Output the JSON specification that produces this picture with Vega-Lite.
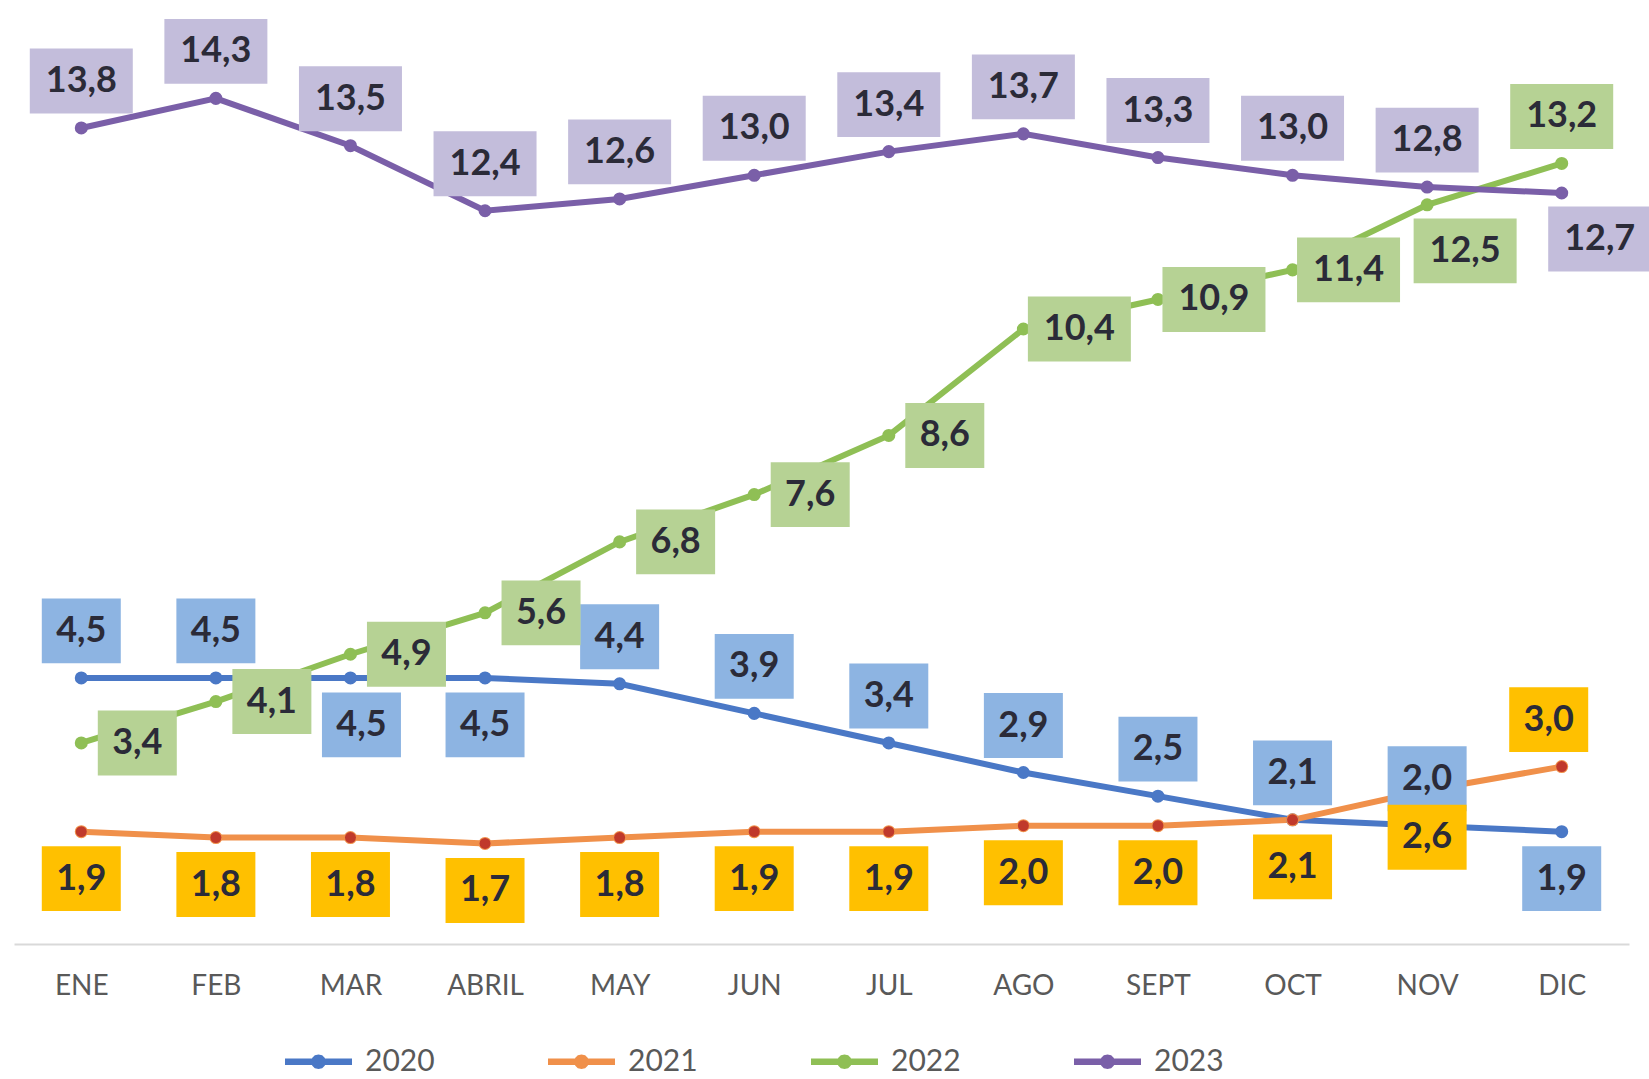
{
  "$schema": "https://vega.github.io/schema/vega-lite/v6.json",
  "width": 1615,
  "height": 887,
  "autosize": "none",
  "padding": {"left": 14, "top": 57, "right": 20, "bottom": 135},
  "background": "white",
  "config": {
    "view": {"stroke": null},
    "locale": {"number": {"decimal": ",", "thousands": ".", "grouping": [3], "currency": ["", " €"]}}
  },
  "data": {
    "values": [
      {"month": "ENE", "year": "2020", "value": 4.5},
      {"month": "FEB", "year": "2020", "value": 4.5},
      {"month": "MAR", "year": "2020", "value": 4.5},
      {"month": "ABRIL", "year": "2020", "value": 4.5},
      {"month": "MAY", "year": "2020", "value": 4.4},
      {"month": "JUN", "year": "2020", "value": 3.9},
      {"month": "JUL", "year": "2020", "value": 3.4},
      {"month": "AGO", "year": "2020", "value": 2.9},
      {"month": "SEPT", "year": "2020", "value": 2.5},
      {"month": "OCT", "year": "2020", "value": 2.1},
      {"month": "NOV", "year": "2020", "value": 2.0},
      {"month": "DIC", "year": "2020", "value": 1.9},
      {"month": "ENE", "year": "2021", "value": 1.9},
      {"month": "FEB", "year": "2021", "value": 1.8},
      {"month": "MAR", "year": "2021", "value": 1.8},
      {"month": "ABRIL", "year": "2021", "value": 1.7},
      {"month": "MAY", "year": "2021", "value": 1.8},
      {"month": "JUN", "year": "2021", "value": 1.9},
      {"month": "JUL", "year": "2021", "value": 1.9},
      {"month": "AGO", "year": "2021", "value": 2.0},
      {"month": "SEPT", "year": "2021", "value": 2.0},
      {"month": "OCT", "year": "2021", "value": 2.1},
      {"month": "NOV", "year": "2021", "value": 2.6},
      {"month": "DIC", "year": "2021", "value": 3.0},
      {"month": "ENE", "year": "2022", "value": 3.4},
      {"month": "FEB", "year": "2022", "value": 4.1},
      {"month": "MAR", "year": "2022", "value": 4.9},
      {"month": "ABRIL", "year": "2022", "value": 5.6},
      {"month": "MAY", "year": "2022", "value": 6.8},
      {"month": "JUN", "year": "2022", "value": 7.6},
      {"month": "JUL", "year": "2022", "value": 8.6},
      {"month": "AGO", "year": "2022", "value": 10.4},
      {"month": "SEPT", "year": "2022", "value": 10.9},
      {"month": "OCT", "year": "2022", "value": 11.4},
      {"month": "NOV", "year": "2022", "value": 12.5},
      {"month": "DIC", "year": "2022", "value": 13.2},
      {"month": "ENE", "year": "2023", "value": 13.8},
      {"month": "FEB", "year": "2023", "value": 14.3},
      {"month": "MAR", "year": "2023", "value": 13.5},
      {"month": "ABRIL", "year": "2023", "value": 12.4},
      {"month": "MAY", "year": "2023", "value": 12.6},
      {"month": "JUN", "year": "2023", "value": 13.0},
      {"month": "JUL", "year": "2023", "value": 13.4},
      {"month": "AGO", "year": "2023", "value": 13.7},
      {"month": "SEPT", "year": "2023", "value": 13.3},
      {"month": "OCT", "year": "2023", "value": 13.0},
      {"month": "NOV", "year": "2023", "value": 12.8},
      {"month": "DIC", "year": "2023", "value": 12.7}
    ]
  },
  "encoding": {
    "x": {
      "field": "month",
      "type": "ordinal",
      "sort": ["ENE", "FEB", "MAR", "ABRIL", "MAY", "JUN", "JUL", "AGO", "SEPT", "OCT", "NOV", "DIC"],
      "scale": {"type": "point", "padding": 0.5},
      "axis": {
        "title": null,
        "labelAngle": 0,
        "labelFont": "Lato",
        "labelFontSize": 28,
        "labelColor": "#595959",
        "labelPadding": 28,
        "ticks": false,
        "grid": false,
        "domainColor": "#d9d9d9",
        "domainWidth": 2
      }
    },
    "y": {
      "field": "value",
      "type": "quantitative",
      "scale": {"domain": [0, 15], "nice": false, "zero": true},
      "axis": null
    }
  },
  "layer": [
    {
      "mark": {"type": "line", "strokeWidth": 6},
      "encoding": {
        "stroke": {
          "field": "year", "type": "nominal",
          "scale": {"domain": ["2023", "2022", "2021", "2020"], "range": ["#7a5fa8", "#8fbf55", "#f0904a", "#4a78c6"]},
          "legend": null
        }
      }
    },
    {
      "mark": {"type": "point", "filled": true, "opacity": 1, "size": 170},
      "encoding": {
        "color": {
          "field": "year", "type": "nominal",
          "scale": {"domain": ["2020", "2021", "2022", "2023"], "range": ["#4a78c6", "#f0904a", "#8fbf55", "#7a5fa8"]},
          "legend": {
            "title": null,
            "orient": "none",
            "legendX": 271,
            "legendY": 971,
            "direction": "horizontal",
            "columns": 4,
            "symbolType": "M-1,-0.1L-0.191,-0.1L-0.191,-0.11L-0.11,-0.191L0,-0.22L0.11,-0.191L0.191,-0.11L0.191,-0.1L1,-0.1L1,0.1L0.191,0.1L0.191,0.11L0.11,0.191L0,0.22L-0.11,0.191L-0.191,0.11L-0.191,0.1L-1,0.1Z",
            "symbolSize": 4489,
            "symbolStrokeWidth": 0,
            "symbolOpacity": 1,
            "labelFont": "Lato",
            "labelFontSize": 30,
            "labelColor": "#595959",
            "labelOffset": 13,
            "columnPadding": 113
          }
        }
      }
    },
    {
      "transform": [{"filter": "datum.year == '2021'"}],
      "mark": {"type": "point", "filled": true, "opacity": 1, "size": 120, "color": "#c0392b"}
    },
    {
      "transform": [{"filter": "!((datum.year=='2021' && datum.month!='DIC') || (datum.year=='2020' && (datum.month=='MAR' || datum.month=='ABRIL' || datum.month=='DIC')) || (datum.year=='2022' && datum.month!='DIC') || (datum.year=='2023' && datum.month=='DIC') || (datum.year=='2021' && datum.month=='DIC'))"}],
      "layer": [
        {
          "mark": {"type": "point", "filled": true, "opacity": 1, "size": 10609, "strokeWidth": 0, "yOffset": -47},
          "encoding": {
            "shape": {"condition": {"test": "datum.value >= 10", "value": "M-1,-0.63H1V0.63H-1Z"}, "value": "M-0.767,-0.63H0.767V0.63H-0.767Z"},
            "fill": {
              "field": "year", "type": "nominal",
              "scale": {"domain": ["2023", "2022", "2021", "2020"], "range": ["#c3bddb", "#b6d294", "#ffc000", "#8db4e2"]},
              "legend": null
            }
          }
        },
        {
          "mark": {"type": "text", "font": "Lato", "fontWeight": "bold", "fontSize": 36, "color": "#2b2b38", "align": "center", "baseline": "middle", "dy": -47},
          "encoding": {"text": {"field": "value", "type": "quantitative", "format": ".1f"}}
        }
      ]
    },
    {
      "transform": [{"filter": "datum.year=='2021' && datum.month=='DIC'"}],
      "layer": [
        {
          "mark": {"type": "point", "filled": true, "opacity": 1, "size": 10609, "strokeWidth": 0, "xOffset": -13, "yOffset": -47},
          "encoding": {
            "shape": {"value": "M-0.767,-0.63H0.767V0.63H-0.767Z"},
            "fill": {"field": "year", "type": "nominal", "legend": null}
          }
        },
        {
          "mark": {"type": "text", "font": "Lato", "fontWeight": "bold", "fontSize": 36, "color": "#2b2b38", "align": "center", "baseline": "middle", "dx": -13, "dy": -47},
          "encoding": {"text": {"field": "value", "type": "quantitative", "format": ".1f"}}
        }
      ]
    },
    {
      "transform": [{"filter": "(datum.year=='2021' && datum.month!='DIC') || (datum.year=='2020' && (datum.month=='ABRIL' || datum.month=='DIC'))"}],
      "layer": [
        {
          "mark": {"type": "point", "filled": true, "opacity": 1, "size": 10609, "strokeWidth": 0, "yOffset": 47},
          "encoding": {
            "shape": {"value": "M-0.767,-0.63H0.767V0.63H-0.767Z"},
            "fill": {"field": "year", "type": "nominal", "legend": null}
          }
        },
        {
          "mark": {"type": "text", "font": "Lato", "fontWeight": "bold", "fontSize": 36, "color": "#2b2b38", "align": "center", "baseline": "middle", "dy": 47},
          "encoding": {"text": {"field": "value", "type": "quantitative", "format": ".1f"}}
        }
      ]
    },
    {
      "transform": [{"filter": "datum.year=='2020' && datum.month=='MAR'"}],
      "layer": [
        {
          "mark": {"type": "point", "filled": true, "opacity": 1, "size": 10609, "strokeWidth": 0, "xOffset": 11, "yOffset": 47},
          "encoding": {
            "shape": {"value": "M-0.767,-0.63H0.767V0.63H-0.767Z"},
            "fill": {"field": "year", "type": "nominal", "legend": null}
          }
        },
        {
          "mark": {"type": "text", "font": "Lato", "fontWeight": "bold", "fontSize": 36, "color": "#2b2b38", "align": "center", "baseline": "middle", "dx": 11, "dy": 47},
          "encoding": {"text": {"field": "value", "type": "quantitative", "format": ".1f"}}
        }
      ]
    },
    {
      "transform": [{"filter": "datum.year=='2022' && datum.month!='NOV' && datum.month!='DIC'"}],
      "layer": [
        {
          "mark": {"type": "point", "filled": true, "opacity": 1, "size": 10609, "strokeWidth": 0, "xOffset": 56},
          "encoding": {
            "shape": {"condition": {"test": "datum.value >= 10", "value": "M-1,-0.63H1V0.63H-1Z"}, "value": "M-0.767,-0.63H0.767V0.63H-0.767Z"},
            "fill": {"field": "year", "type": "nominal", "legend": null}
          }
        },
        {
          "mark": {"type": "text", "font": "Lato", "fontWeight": "bold", "fontSize": 36, "color": "#2b2b38", "align": "center", "baseline": "middle", "dx": 56},
          "encoding": {"text": {"field": "value", "type": "quantitative", "format": ".1f"}}
        }
      ]
    },
    {
      "transform": [{"filter": "(datum.year=='2022' && datum.month=='NOV') || (datum.year=='2023' && datum.month=='DIC')"}],
      "layer": [
        {
          "mark": {"type": "point", "filled": true, "opacity": 1, "size": 10609, "strokeWidth": 0, "xOffset": 38, "yOffset": 46},
          "encoding": {
            "shape": {"value": "M-1,-0.63H1V0.63H-1Z"},
            "fill": {"field": "year", "type": "nominal", "legend": null}
          }
        },
        {
          "mark": {"type": "text", "font": "Lato", "fontWeight": "bold", "fontSize": 36, "color": "#2b2b38", "align": "center", "baseline": "middle", "dx": 38, "dy": 46},
          "encoding": {"text": {"field": "value", "type": "quantitative", "format": ".1f"}}
        }
      ]
    }
  ]
}
